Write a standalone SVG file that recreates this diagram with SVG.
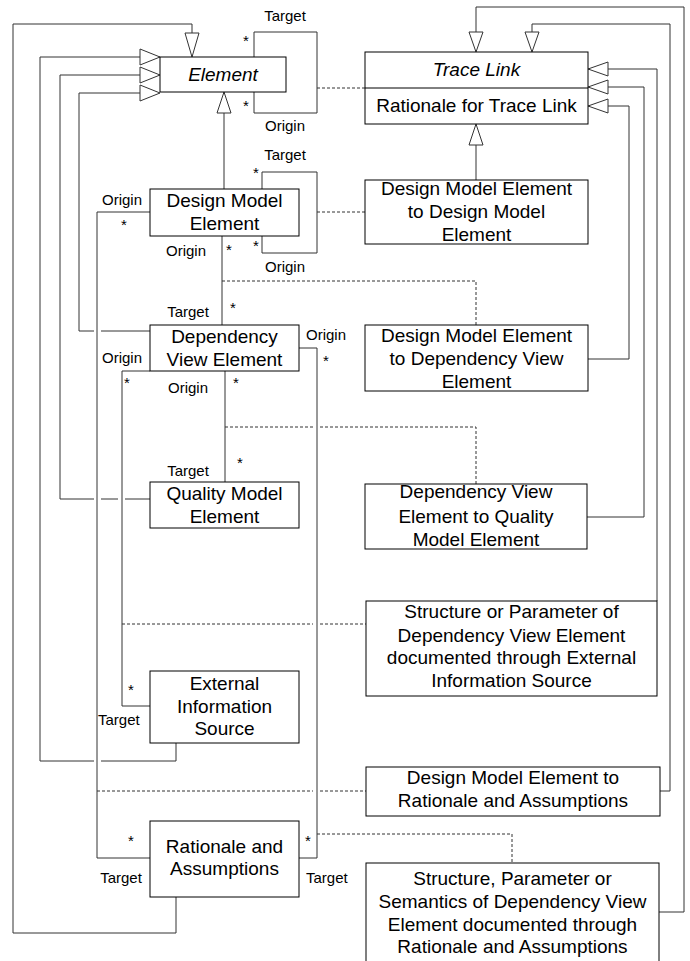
<svg xmlns="http://www.w3.org/2000/svg" width="690" height="961" viewBox="0 0 690 961">
<style>
.box{fill:#fff;stroke:#000;stroke-width:1}
.t{font-family:"Liberation Sans",Arial,sans-serif;font-size:19px;fill:#000;text-anchor:middle}
.it{font-style:italic}
.lb{font-family:"Liberation Sans",Arial,sans-serif;font-size:15px;fill:#000}
.c{text-anchor:middle}
.ln{fill:none;stroke:#333;stroke-width:1}
.dash{fill:none;stroke:#333;stroke-width:1;stroke-dasharray:3,2}
.tri{fill:#fff;stroke:#333;stroke-width:1}
</style>
<g id="connectors">
<!-- generalizations to Element -->
<path class="ln" d="M176,897 V933 H13 V24 H192 V33"/>
<polygon class="tri" points="185,33 199,33 192,57"/>
<path class="ln" d="M176,743 V761 H101 M94,761 H40 V57 H140"/>
<polygon class="tri" points="140,49 140,65 160,57"/>
<path class="ln" d="M150,499 H125 M118,499 H101 M94,499 H60 V75 H140"/>
<polygon class="tri" points="140,67 140,83 160,75"/>
<path class="ln" d="M150,331 H101 M94,331 H79 V93 H140"/>
<polygon class="tri" points="140,85 140,101 160,93"/>
<path class="ln" d="M224,189 V113"/>
<polygon class="tri" points="217,113 231,113 224,92"/>
<!-- associations -->
<path class="ln" d="M254,57 V32 H317 V113 H254 V92"/>
<path class="ln" d="M262,189 V172 H317 V253 H262 V236"/>
<path class="ln" d="M150,212 H97 V858 H150"/>
<path class="ln" d="M222,236 V325"/>
<path class="ln" d="M299,348 H317 V858 H299"/>
<path class="ln" d="M150,371 H122 V706 H150"/>
<path class="ln" d="M225,371 V482"/>
<!-- generalizations to Trace Link -->
<path class="ln" d="M476,180 V145"/>
<polygon class="tri" points="469,145 483,145 476,124"/>
<path class="ln" d="M588,359 H629 V106 H608"/>
<polygon class="tri" points="608,99 608,113 588,106"/>
<path class="ln" d="M587,517 H644 V87 H608"/>
<polygon class="tri" points="608,80 608,94 588,87"/>
<path class="ln" d="M657,601 V69 H608"/>
<polygon class="tri" points="608,62 608,76 588,69"/>
<path class="ln" d="M660,791 H670 V24 H532 V32"/>
<polygon class="tri" points="525,32 539,32 532,52"/>
<path class="ln" d="M659,912 H684 V7 H476 V32"/>
<polygon class="tri" points="469,32 483,32 476,52"/>
<!-- association classes (dashed) -->
<path class="dash" d="M317,88 H365"/>
<path class="dash" d="M317,212 H365"/>
<path class="dash" d="M222,281 H476 V325"/>
<path class="dash" d="M225,427 H313 M320,427 H476 V484"/>
<path class="dash" d="M122,624 H313 M320,624 H366"/>
<path class="dash" d="M97,791 H313 M320,791 H366"/>
<path class="dash" d="M317,834 H512 V863"/>
</g>
<g id="labels">
<text class="lb c" x="285" y="21">Target</text>
<text class="lb" x="243" y="46">*</text>
<text class="lb" x="243" y="111">*</text>
<text class="lb c" x="285" y="131">Origin</text>
<text class="lb c" x="285" y="160">Target</text>
<text class="lb" x="253" y="178">*</text>
<text class="lb" x="253" y="251">*</text>
<text class="lb c" x="285" y="272">Origin</text>
<text class="lb c" x="122" y="205">Origin</text>
<text class="lb" x="121" y="230">*</text>
<text class="lb c" x="186" y="256">Origin</text>
<text class="lb" x="226" y="255">*</text>
<text class="lb c" x="188" y="317">Target</text>
<text class="lb" x="230" y="313">*</text>
<text class="lb" x="306" y="340">Origin</text>
<text class="lb" x="323" y="366">*</text>
<text class="lb c" x="122" y="363">Origin</text>
<text class="lb" x="124" y="388">*</text>
<text class="lb c" x="188" y="393">Origin</text>
<text class="lb" x="233" y="388">*</text>
<text class="lb c" x="188" y="476">Target</text>
<text class="lb" x="237" y="468">*</text>
<text class="lb" x="128" y="695">*</text>
<text class="lb" x="98" y="725">Target</text>
<text class="lb" x="128" y="846">*</text>
<text class="lb c" x="121" y="883">Target</text>
<text class="lb" x="305" y="846">*</text>
<text class="lb" x="306" y="883">Target</text>
</g>
<g id="element">
<rect class="box" x="160" y="57" width="126" height="35"/>
<text class="t it" x="223" y="81">Element</text>
</g>
<g id="trace-link">
<rect class="box" x="365" y="52" width="223" height="72"/>
<line x1="365" y1="88" x2="588" y2="88" stroke="#000"/>
<text class="t it" x="476.5" y="76">Trace Link</text>
<text class="t" x="476.5" y="112">Rationale for Trace Link</text>
</g>
<g id="design-model-element">
<rect class="box" x="150" y="189" width="149" height="47"/>
<text class="t" x="224.5" y="207">Design Model</text>
<text class="t" x="224.5" y="230">Element</text>
</g>
<g id="dme-to-dme">
<rect class="box" x="365" y="180" width="223" height="64"/>
<text class="t" x="476.5" y="195">Design Model Element</text>
<text class="t" x="476.5" y="218">to Design Model</text>
<text class="t" x="476.5" y="241">Element</text>
</g>
<g id="dependency-view-element">
<rect class="box" x="150" y="325" width="149" height="46"/>
<text class="t" x="224.5" y="343">Dependency</text>
<text class="t" x="224.5" y="366">View Element</text>
</g>
<g id="dme-to-dve">
<rect class="box" x="365" y="325" width="223" height="66"/>
<text class="t" x="476.5" y="342">Design Model Element</text>
<text class="t" x="476.5" y="365">to Dependency View</text>
<text class="t" x="476.5" y="388">Element</text>
</g>
<g id="quality-model-element">
<rect class="box" x="150" y="482" width="149" height="46"/>
<text class="t" x="224.5" y="500">Quality Model</text>
<text class="t" x="224.5" y="523">Element</text>
</g>
<g id="dve-to-qme">
<rect class="box" x="365" y="484" width="222" height="65"/>
<text class="t" x="476" y="498">Dependency View</text>
<text class="t" x="476" y="523">Element to Quality</text>
<text class="t" x="476" y="546">Model Element</text>
</g>
<g id="structure-external">
<rect class="box" x="366" y="601" width="291" height="95"/>
<text class="t" x="511.5" y="618">Structure or Parameter of</text>
<text class="t" x="511.5" y="642">Dependency View Element</text>
<text class="t" x="511.5" y="664">documented through External</text>
<text class="t" x="511.5" y="687">Information Source</text>
</g>
<g id="external-information-source">
<rect class="box" x="150" y="671" width="149" height="72"/>
<text class="t" x="224.5" y="690">External</text>
<text class="t" x="224.5" y="713">Information</text>
<text class="t" x="224.5" y="735">Source</text>
</g>
<g id="dme-to-rationale">
<rect class="box" x="366" y="767" width="294" height="49"/>
<text class="t" x="513" y="784">Design Model Element to</text>
<text class="t" x="513" y="807">Rationale and Assumptions</text>
</g>
<g id="rationale-and-assumptions">
<rect class="box" x="150" y="821" width="149" height="76"/>
<text class="t" x="224.5" y="853">Rationale and</text>
<text class="t" x="224.5" y="875">Assumptions</text>
</g>
<g id="structure-rationale">
<rect class="box" x="366" y="863" width="293" height="104"/>
<text class="t" x="512.5" y="885">Structure, Parameter or</text>
<text class="t" x="512.5" y="908">Semantics of Dependency View</text>
<text class="t" x="512.5" y="931">Element documented through</text>
<text class="t" x="512.5" y="953">Rationale and Assumptions</text>
</g>
</svg>
